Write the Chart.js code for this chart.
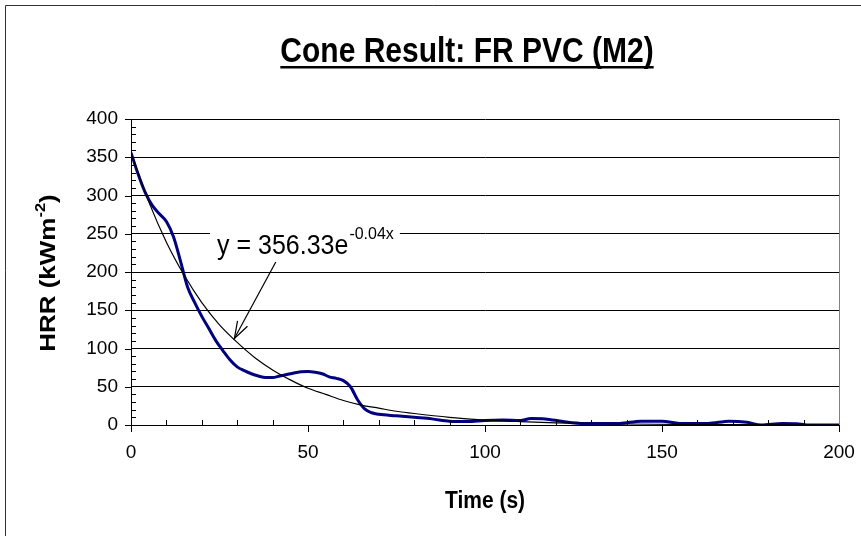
<!DOCTYPE html>
<html lang="en">
<head>
    <meta charset="UTF-8">
    <title>Cone Result: FR PVC (M2)</title>
    <script src="https://cdn.jsdelivr.net/npm/chart.js"></script>
    <style>
        body {
            margin: 0;
            background-color: #ffffff;
        }
        #chart-container {
            width: 861px;
            height: 536px;
        }
    </style>
</head>
<body>
    <div id="chart-container">
        <canvas id="chart" width="861" height="536"></canvas>
    </div>

    <script>
        // measured HRR curve (time in s, HRR in kW/m2)
        const times = [0, 2, 4, 6, 8, 10, 12, 14, 16, 18, 20, 22, 24, 26, 28, 30, 32, 34, 36, 38, 40,
            42, 44, 46, 48, 50, 52, 54, 56, 58, 60, 62, 64, 66, 68, 70, 75, 80, 85, 90, 95,
            100, 105, 110, 113, 117, 122, 128, 138, 144, 150, 155, 163, 169, 174, 178, 184, 188, 191, 200];
        const hrr = [356, 328, 304, 287, 276, 266, 246, 214, 180, 160, 142, 126, 110, 97, 85, 76, 71, 67, 64, 62, 62,
            64, 66, 68, 69.5, 70, 69, 67, 63, 61, 58, 50, 33, 21, 16, 14, 12, 10, 8, 5, 4.5,
            6, 6.5, 6, 8.5, 8, 4.5, 2, 2, 5, 5, 2, 2, 5, 3.5, 0, 2, 1.7, 0, 0];

        // exponential trendline
        const trendTimes = [0, 5, 10, 15, 20, 25, 30, 35, 40, 45, 50, 55, 60, 65, 70, 75, 80, 90, 100, 110, 120, 140, 160, 180, 200];
        const trendHrr = [356, 292, 239, 196, 160, 131, 108, 88, 72, 59, 48, 40, 32, 26, 22, 18, 15, 10, 6.5, 4.4, 2.9, 1.3, 0.6, 0.3, 0.1];

        const titleText = 'Cone Result: FR PVC (M2)';
        const xTitle = 'Time (s)';
        const yTitleMain = 'HRR (kWm';
        const yTitleSup = '-2';
        const fitMain = 'y = 356.33e';
        const fitSup = '-0.04x';

        const FONT = "'Liberation Sans', Arial, sans-serif";

        function stretchText(ctx, txt, x, y, font, sy, align) {
            ctx.save();
            ctx.translate(x, y);
            ctx.scale(1, sy);
            ctx.font = font;
            ctx.textAlign = align || 'left';
            ctx.textBaseline = 'alphabetic';
            ctx.fillText(txt, 0, 0);
            ctx.restore();
        }

        const decorPlugin = {
            id: 'decor',
            beforeDraw(chart) {
                const ctx = chart.ctx;
                ctx.save();
                // outer frame (runs off the right and bottom edges)
                ctx.strokeStyle = '#333333';
                ctx.lineWidth = 1;
                ctx.beginPath();
                ctx.moveTo(5.5, chart.height);
                ctx.lineTo(5.5, 5.5);
                ctx.lineTo(chart.width, 5.5);
                ctx.stroke();
                ctx.restore();
            },
            afterDatasetsDraw(chart) {
                const ctx = chart.ctx;
                const xs = chart.scales.x, ys = chart.scales.y;
                const area = chart.chartArea;
                ctx.save();
                ctx.fillStyle = '#000';
                ctx.strokeStyle = '#000';
                ctx.lineWidth = 1;

                // tick marks: minor inside, major outside
                ys.ticks.forEach(t => {
                    const py = Math.round(ys.getPixelForValue(t.value)) + 0.5;
                    ctx.beginPath();
                    if (t.value % 50 === 0) {
                        ctx.moveTo(area.left - 6, py);
                        ctx.lineTo(area.left, py);
                    } else {
                        ctx.moveTo(area.left, py);
                        ctx.lineTo(area.left + 5, py);
                    }
                    ctx.stroke();
                });
                xs.ticks.forEach(t => {
                    const px = Math.round(xs.getPixelForValue(t.value)) + 0.5;
                    ctx.beginPath();
                    if (t.value % 50 === 0) {
                        ctx.moveTo(px, area.bottom);
                        ctx.lineTo(px, area.bottom + 7);
                    } else {
                        ctx.moveTo(px, area.bottom);
                        ctx.lineTo(px, area.bottom - 5);
                    }
                    ctx.stroke();
                });

                // trendline label with white box and arrow
                const tx = xs.getPixelForValue(24.3);
                const ty = ys.getPixelForValue(224);
                ctx.font = '25px ' + FONT;
                const wMain = ctx.measureText(fitMain).width;
                ctx.font = '16px ' + FONT;
                const wSup = ctx.measureText(fitSup).width;
                ctx.fillStyle = '#ffffff';
                ctx.fillRect(tx - 7, ty - 26, wMain + wSup + 14, 34);
                ctx.fillStyle = '#000';
                stretchText(ctx, fitMain, tx, ty, '25px ' + FONT, 1.08);
                stretchText(ctx, fitSup, tx + wMain + 1, ty - 15, '16px ' + FONT, 1.08);

                const ax0 = xs.getPixelForValue(40.9), ay0 = ys.getPixelForValue(213);
                const ax1 = xs.getPixelForValue(29.2), ay1 = ys.getPixelForValue(113);
                ctx.lineWidth = 1.2;
                ctx.beginPath();
                ctx.moveTo(ax0, ay0);
                ctx.lineTo(ax1, ay1);
                ctx.stroke();
                const ang = Math.atan2(ay1 - ay0, ax1 - ax0);
                const len = 18, spread = 0.32;
                ctx.beginPath();
                ctx.moveTo(ax1 - len * Math.cos(ang - spread), ay1 - len * Math.sin(ang - spread));
                ctx.lineTo(ax1, ay1);
                ctx.lineTo(ax1 - len * Math.cos(ang + spread), ay1 - len * Math.sin(ang + spread));
                ctx.stroke();
                ctx.restore();
            },
            afterDraw(chart) {
                const ctx = chart.ctx;
                const area = chart.chartArea;
                ctx.save();
                ctx.fillStyle = '#000';

                // title, underlined
                const cx = 467;
                stretchText(ctx, titleText, cx, 62, 'bold 30px ' + FONT, 1.15, 'center');
                ctx.font = 'bold 30px ' + FONT;
                const tw = ctx.measureText(titleText).width;
                ctx.fillRect(cx - tw / 2, 66, tw, 2.5);

                // x axis title
                stretchText(ctx, xTitle, (area.left + area.right) / 2, 508, 'bold 21px ' + FONT, 1.12, 'center');

                // y axis title with superscript
                const fMain = 'bold 22px ' + FONT, fSup = 'bold 14px ' + FONT;
                ctx.font = fMain;
                const w1 = ctx.measureText(yTitleMain).width;
                const w3 = ctx.measureText(')').width;
                ctx.font = fSup;
                const w2 = ctx.measureText(yTitleSup).width;
                const sx = 1.18;
                const total = (w1 + w2 + w3) * sx;
                ctx.translate(55, 273);
                ctx.rotate(-Math.PI / 2);
                ctx.scale(sx, 1);
                const start = -total / 2 / sx;
                ctx.font = fMain;
                ctx.textBaseline = 'alphabetic';
                ctx.fillText(yTitleMain, start, 0);
                ctx.font = fSup;
                ctx.fillText(yTitleSup, start + w1, -10);
                ctx.font = fMain;
                ctx.fillText(')', start + w1 + w2, 0);
                ctx.restore();
            }
        };

        const ctx = document.getElementById('chart').getContext('2d');

        const chart = new Chart(ctx, {
            type: 'line',
            data: {
                datasets: [{
                    label: 'Trend',
                    data: trendTimes.map((t, i) => ({ x: t, y: trendHrr[i] })),
                    borderColor: '#000000',
                    borderWidth: 1.2,
                    pointRadius: 0,
                    fill: false,
                    cubicInterpolationMode: 'monotone',
                    order: 0
                }, {
                    label: 'HRR',
                    data: times.map((t, i) => ({ x: t, y: hrr[i] })),
                    borderColor: '#000080',
                    borderWidth: 3,
                    pointRadius: 0,
                    fill: false,
                    cubicInterpolationMode: 'monotone',
                    order: 1
                }]
            },
            options: {
                responsive: false,
                animation: false,
                devicePixelRatio: 1,
                layout: { autoPadding: false, padding: { top: 119, right: 22, left: 0, bottom: 0 } },
                plugins: {
                    legend: { display: false },
                    tooltip: { enabled: false },
                    title: { display: false }
                },
                scales: {
                    x: {
                        type: 'linear',
                        min: 0,
                        max: 200,
                        afterFit: s => {
                            s.height = 111;
                            s.paddingLeft = 0;
                            s.paddingRight = 0;
                        },
                        ticks: {
                            stepSize: 10,
                            autoSkip: false,
                            maxRotation: 0,
                            padding: 16,
                            color: '#000',
                            font: { family: FONT, size: 19 },
                            callback: v => (v % 50 === 0 ? v : '')
                        },
                        grid: {
                            drawTicks: false,
                            color: c => (c.tick && c.tick.value === 200 ? '#808080' : 'rgba(0,0,0,0)')
                        },
                        border: { display: true, color: '#000', width: 1 }
                    },
                    y: {
                        min: 0,
                        max: 400,
                        afterFit: s => {
                            s.width = 131;
                            s.paddingTop = 0;
                            s.paddingBottom = 0;
                        },
                        ticks: {
                            stepSize: 10,
                            autoSkip: false,
                            padding: 13,
                            color: '#000',
                            font: { family: FONT, size: 19 },
                            callback: v => (v % 50 === 0 ? v : '')
                        },
                        grid: {
                            drawTicks: false,
                            color: c => (c.tick && c.tick.value % 50 === 0 ? '#000' : 'rgba(0,0,0,0)')
                        },
                        border: { display: true, color: '#000', width: 1 }
                    }
                }
            },
            plugins: [decorPlugin]
        });
    </script>
</body>
</html>
